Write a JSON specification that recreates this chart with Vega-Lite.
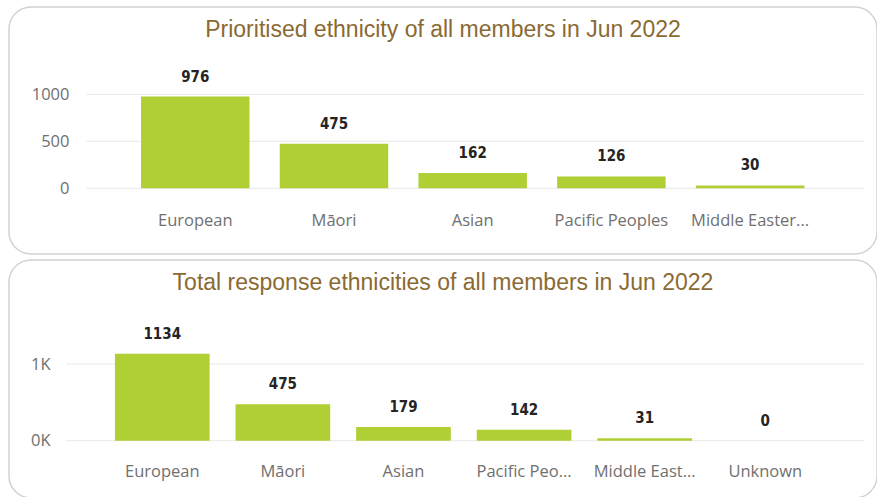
{
  "$schema": "https://vega.github.io/schema/vega-lite/v6.json",
  "background": "white",
  "padding": {"left": 8, "top": 6, "right": 0, "bottom": 0},
  "spacing": 4,
  "config": {
    "view": {"stroke": "#d2d2d2", "strokeWidth": 1.5, "cornerRadius": 22, "fill": "white"},
    "title": {"font": "Liberation Sans", "fontSize": 23, "fontWeight": "normal", "color": "#8a6a32", "anchor": "middle", "offset": -35, "baseline": "alphabetic"},
    "axis": {"labelFont": "Open Sans", "labelColor": "#707070", "labelFontSize": 16.5, "domain": false, "ticks": false, "grid": false}
  },
  "datasets": {
    "prio": [
      {"ethnicity": "European", "value": 976},
      {"ethnicity": "Māori", "value": 475},
      {"ethnicity": "Asian", "value": 162},
      {"ethnicity": "Pacific Peoples", "value": 126},
      {"ethnicity": "Middle Easter...", "value": 30}
    ],
    "total": [
      {"ethnicity": "European", "value": 1134},
      {"ethnicity": "Māori", "value": 475},
      {"ethnicity": "Asian", "value": 179},
      {"ethnicity": "Pacific Peo...", "value": 142},
      {"ethnicity": "Middle East...", "value": 31},
      {"ethnicity": "Unknown", "value": 0}
    ],
    "grid1": [{"v": 0}, {"v": 500}, {"v": 1000}],
    "grid2": [{"v": 0}, {"v": 1000}]
  },
  "vconcat": [
    {
      "width": 868,
      "height": 247,
      "title": "Prioritised ethnicity of all members in Jun 2022",
      "layer": [
        {
          "data": {"name": "grid1"},
          "mark": {"type": "rule", "color": "#e8e8e8", "strokeWidth": 1},
          "encoding": {
            "y": {"field": "v", "type": "quantitative"},
            "x": {"datum": "European", "type": "nominal", "bandPosition": -0.507},
            "x2": {"datum": "Middle Easter...", "bandPosition": 1.55}
          }
        },
        {
          "data": {"name": "prio"},
          "mark": {"type": "bar", "color": "#afcf35"},
          "encoding": {
            "x": {"field": "ethnicity", "type": "nominal", "sort": null,
                  "scale": {"domain": ["European", "Māori", "Asian", "Pacific Peoples", "Middle Easter..."], "paddingInner": 0.218, "paddingOuter": 0.738, "align": 0.645},
                  "axis": {"title": null, "labelAngle": 0, "labelAlign": "center", "offset": -66, "labelPadding": 24, "labelBaseline": "top", "bandPosition": 0.5}},
            "y": {"field": "value", "type": "quantitative",
                  "scale": {"domain": [-699, 1929], "nice": false, "zero": false},
                  "axis": {"title": null, "values": [0, 500, 1000], "format": "d", "offset": -62, "labelPadding": 2}},
            "y2": {"datum": 0}
          }
        },
        {
          "data": {"name": "prio"},
          "mark": {"type": "text", "font": "DejaVu Sans Condensed", "fontWeight": "bold", "fontSize": 15, "color": "#252423", "baseline": "middle", "dy": -20},
          "encoding": {
            "x": {"field": "ethnicity", "type": "nominal", "sort": null},
            "y": {"field": "value", "type": "quantitative"},
            "text": {"field": "value", "type": "quantitative"}
          }
        }
      ]
    },
    {
      "width": 868,
      "height": 238,
      "title": "Total response ethnicities of all members in Jun 2022",
      "layer": [
        {
          "data": {"name": "grid2"},
          "mark": {"type": "rule", "color": "#e8e8e8", "strokeWidth": 1},
          "encoding": {
            "y": {"field": "v", "type": "quantitative"},
            "x": {"datum": "European", "type": "nominal", "bandPosition": -0.51},
            "x2": {"datum": "Unknown", "bandPosition": 1.54}
          }
        },
        {
          "data": {"name": "total"},
          "mark": {"type": "bar", "color": "#afcf35"},
          "encoding": {
            "x": {"field": "ethnicity", "type": "nominal", "sort": null,
                  "scale": {"domain": ["European", "Māori", "Asian", "Pacific Peo...", "Middle East...", "Unknown"], "paddingInner": 0.215, "paddingOuter": 0.706, "align": 0.622},
                  "axis": {"title": null, "labelAngle": 0, "labelAlign": "center", "offset": -57, "labelPadding": 22, "labelBaseline": "top", "bandPosition": 0.5}},
            "y": {"field": "value", "type": "quantitative",
                  "scale": {"domain": [-747, 2356], "nice": false, "zero": false},
                  "axis": {"title": null, "values": [0, 1000], "offset": -43, "labelPadding": 2, "labelExpr": "(datum.value / 1000) + 'K'"}},
            "y2": {"datum": 0}
          }
        },
        {
          "data": {"name": "total"},
          "mark": {"type": "text", "font": "DejaVu Sans Condensed", "fontWeight": "bold", "fontSize": 15, "color": "#252423", "baseline": "middle", "dy": -20},
          "encoding": {
            "x": {"field": "ethnicity", "type": "nominal", "sort": null},
            "y": {"field": "value", "type": "quantitative"},
            "text": {"field": "value", "type": "quantitative"}
          }
        }
      ]
    }
  ]
}
